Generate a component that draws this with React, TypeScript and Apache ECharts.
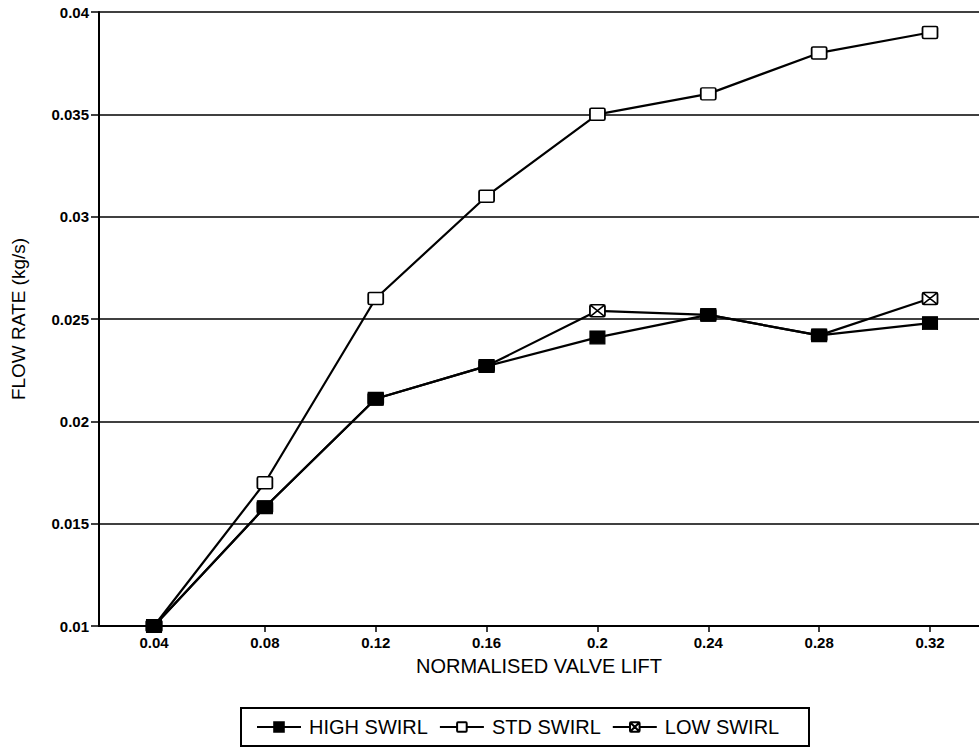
import React, { useEffect, useRef } from "react";
import * as echarts from "echarts";

const lift = [0.04, 0.08, 0.12, 0.16, 0.2, 0.24, 0.28, 0.32];
const highSwirl = [0.01, 0.0158, 0.0211, 0.0227, 0.0241, 0.0252, 0.0242, 0.0248];
const stdSwirl = [0.01, 0.017, 0.026, 0.031, 0.035, 0.036, 0.038, 0.039];
const lowSwirl = [0.01, 0.0158, 0.0211, 0.0227, 0.0254, 0.0252, 0.0242, 0.026];

const FONT = "'Liberation Sans', Arial, Helvetica, sans-serif";
const CROSS = "path://M1.5,0H14.5Q16,0 16,1.5V10.5Q16,12 14.5,12H1.5Q0,12 0,10.5V1.5Q0,0 1.5,0Z M0,0L16,12 M16,0L0,12";
const SQUARE = "path://M1.5,0H14.5Q16,0 16,1.5V10.5Q16,12 14.5,12H1.5Q0,12 0,10.5V1.5Q0,0 1.5,0Z";

const pairs = (ys: number[]) => lift.map((x, i) => [x, ys[i]]);

export default function App() {
  const ref = useRef<HTMLDivElement>(null);
  useEffect(() => {
    if (!ref.current) return;
    const chart = echarts.init(ref.current, undefined, { renderer: "svg" });
    chart.setOption({
      animation: false,
      backgroundColor: "#ffffff",
      textStyle: { fontFamily: FONT, color: "#000" },
      grid: { left: 99, top: 12, right: 0, bottom: 122, containLabel: false },
      legend: {
        left: 251,
        top: 712,
        itemWidth: 44,
        itemHeight: 12,
        itemGap: 11,
        data: ["HIGH SWIRL", "STD SWIRL", "LOW SWIRL"],
        textStyle: { fontFamily: FONT, fontSize: 20, color: "#000", padding: [0, 0, 0, 3] },
      },
      graphic: [
        {
          type: "rect",
          shape: { x: 241, y: 708, width: 568, height: 38 },
          style: { fill: "none", stroke: "#000", lineWidth: 2 },
          z: 10,
        },
      ],
      xAxis: {
        type: "value",
        min: 0.02015,
        max: 0.33768,
        name: "NORMALISED VALVE LIFT",
        nameLocation: "middle",
        nameGap: 30,
        nameTextStyle: { fontFamily: FONT, fontSize: 20, color: "#000" },
        axisLine: { show: true, onZero: false, lineStyle: { color: "#000", width: 2 } },
        axisTick: { show: true, customValues: lift, length: 6, lineStyle: { color: "#000", width: 1.5 } },
        axisLabel: {
          customValues: lift,
          formatter: (v: number) => String(v),
          fontFamily: FONT,
          fontSize: 15,
          fontWeight: "bold",
          color: "#000",
          margin: 9,
        },
        splitLine: { show: false },
      },
      yAxis: {
        type: "value",
        min: 0.01,
        max: 0.04,
        interval: 0.005,
        name: "FLOW RATE (kg/s)",
        nameLocation: "middle",
        nameGap: 71,
        nameRotate: 90,
        nameTextStyle: { fontFamily: FONT, fontSize: 19, color: "#000" },
        axisLine: { show: true, onZero: false, lineStyle: { color: "#000", width: 2 } },
        axisTick: { show: true, length: 8, lineStyle: { color: "#000", width: 1.5 } },
        axisLabel: { fontFamily: FONT, fontSize: 15, fontWeight: "bold", color: "#000", margin: 10 },
        splitLine: { show: true, lineStyle: { color: "#000", width: 1.6 } },
      },
      series: [
        {
          name: "STD SWIRL",
          type: "line",
          data: pairs(stdSwirl),
          symbol: SQUARE,
          symbolSize: [15, 12],
          lineStyle: { color: "#000", width: 2.2 },
          itemStyle: { color: "#fff", borderColor: "#000", borderWidth: 1.6 },
          z: 3,
        },
        {
          name: "LOW SWIRL",
          type: "line",
          data: pairs(lowSwirl),
          symbol: CROSS,
          symbolSize: [15, 12],
          lineStyle: { color: "#000", width: 2.2 },
          itemStyle: { color: "#fff", borderColor: "#000", borderWidth: 1.6 },
          z: 4,
        },
        {
          name: "HIGH SWIRL",
          type: "line",
          data: pairs(highSwirl),
          symbol: "rect",
          symbolSize: [15, 13],
          lineStyle: { color: "#000", width: 2.2 },
          itemStyle: { color: "#000", borderColor: "#000", borderWidth: 1 },
          z: 5,
        },
      ],
    });
    return () => chart.dispose();
  }, []);
  return (
    <div
      ref={ref}
      style={{ position: "absolute", left: 0, top: 0, width: 979, height: 748, background: "#fff" }}
    />
  );
}
